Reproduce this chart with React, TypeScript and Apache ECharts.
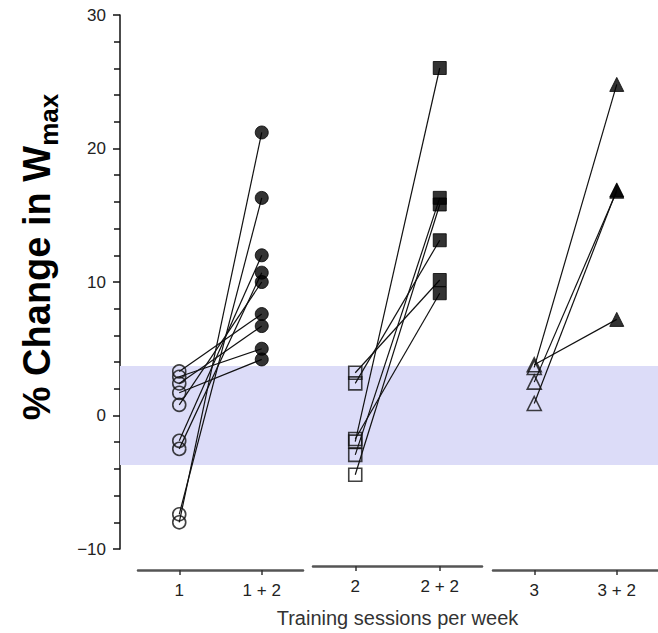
import React, { useEffect, useRef } from "react";
import * as echarts from "echarts";

// Tick labels / categories
const groupCategories = [
  ["1", "1 + 2"],
  ["2", "2 + 2"],
  ["3", "3 + 2"],
];
const yTicks = [-10, 0, 10, 20, 30];

// % change in Wmax, paired per subject (before -> after)
const preOnce = [-8.0, -7.4, -1.9, -2.5, 0.8, 3.3, 2.4, 2.9, 1.7];
const postOnce = [21.2, 16.3, 12.0, 10.7, 10.0, 7.6, 6.7, 5.0, 4.2];
const preTwice = [-2.2, -3.2, -4.7, 3.0, 2.2, -2.0];
const postTwice = [26.0, 16.2, 15.7, 10.0, 13.0, 9.0];
const preThrice = [3.8, 3.6, 2.5, 0.9];
const postThrice = [7.2, 24.8, 16.8, 16.9];

// Reference band (typical variation)
const bandLimits = [-3.7, 3.7];

const groups = [
  { pre: preOnce, post: postOnce, symbol: "circle", size: 13 },
  { pre: preTwice, post: postTwice, symbol: "rect", size: 13 },
  { pre: preThrice, post: postThrice, symbol: "triangle", size: 14 },
];

const FONT = "Liberation Sans, Arial, Helvetica, sans-serif";

export default function App() {
  const ref = useRef<HTMLDivElement>(null);
  useEffect(() => {
    if (!ref.current) return;
    const chart = echarts.init(ref.current, undefined, { renderer: "svg" });
    const TOP = 15;
    const BOTTOM = 84;
    const grids: any[] = [
      { left: 120, right: 0, top: TOP, bottom: BOTTOM },
      { left: 138, width: 165, top: TOP, bottom: BOTTOM },
      { left: 313, width: 169, top: TOP, bottom: BOTTOM },
      { left: 493, width: 165, top: TOP, bottom: BOTTOM },
    ];
    const xAxes: any[] = [
      { gridIndex: 0, type: "value", min: 0, max: 1, show: false },
    ];
    const yAxes: any[] = [
      {
        gridIndex: 0,
        type: "value",
        min: yTicks[0],
        max: yTicks[yTicks.length - 1],
        interval: 10,
        axisLine: { show: true, onZero: false, lineStyle: { color: "#111", width: 1.5 } },
        axisTick: { show: true, length: 7, lineStyle: { color: "#111", width: 1.5 } },
        minorTick: { show: true, splitNumber: 5, length: 6, lineStyle: { color: "#111", width: 1.5 } },
        splitLine: { show: false },
        axisLabel: {
          margin: 14,
          fontSize: 17,
          color: "#222",
          fontFamily: FONT,
          formatter: (v: number) => String(v).replace("-", "\u2212"),
        },
      },
    ];
    const series: any[] = [
      {
        type: "line",
        xAxisIndex: 0,
        yAxisIndex: 0,
        data: [],
        silent: true,
        markArea: {
          silent: true,
          itemStyle: { color: "#dcdcf8" },
          data: [[{ yAxis: bandLimits[1] }, { yAxis: bandLimits[0] }]],
        },
      },
    ];
    groups.forEach((g, gi) => {
      const idx = gi + 1;
      xAxes.push({
        gridIndex: idx,
        type: "category",
        data: groupCategories[gi],
        boundaryGap: true,
        offset: 21,
        axisLine: { show: true, onZero: false, lineStyle: { color: "#555", width: 2.5 } },
        axisTick: { show: true, alignWithLabel: true, length: 5, lineStyle: { color: "#333", width: 1.5 } },
        axisLabel: {
          margin: 12,
          fontSize: 17,
          color: "#222",
          fontFamily: FONT,
        },
        ...(gi === 1
          ? {
              name: "Training sessions per week",
              nameLocation: "middle",
              nameGap: 42,
              nameTextStyle: {
                fontSize: 20,
                color: "#333",
                fontFamily: FONT,
              },
            }
          : {}),
      });
      yAxes.push({
        gridIndex: idx,
        type: "value",
        min: yTicks[0],
        max: yTicks[yTicks.length - 1],
        show: false,
      });
      g.pre.forEach((v, i) => {
        series.push({
          type: "line",
          xAxisIndex: idx,
          yAxisIndex: idx,
          symbol: "none",
          silent: true,
          z: 2,
          lineStyle: { color: "#111", width: 1.2 },
          data: [
            [0, v],
            [1, g.post[i]],
          ],
        });
      });
      series.push({
        type: "scatter",
        xAxisIndex: idx,
        yAxisIndex: idx,
        symbol: g.symbol,
        symbolSize: g.size,
        z: 3,
        itemStyle: { color: "rgba(255,255,255,0)", borderColor: "#111", borderWidth: 1.6 },
        data: g.pre.map((v) => [0, v]),
      });
      series.push({
        type: "scatter",
        xAxisIndex: idx,
        yAxisIndex: idx,
        symbol: g.symbol,
        symbolSize: g.size,
        z: 3,
        itemStyle: { color: "#000", borderColor: "#000", borderWidth: 1 },
        data: g.post.map((v) => [1, v]),
      });
    });

    chart.setOption({
      animation: false,
      backgroundColor: "#fff",
      grid: grids,
      xAxis: xAxes,
      yAxis: yAxes,
      series,
      graphic: [
        {
          type: "text",
          x: 40,
          y: 257,
          rotation: Math.PI / 2,
          style: {
            text: "{a|% Change in W}{s|max}",
            align: "center",
            verticalAlign: "middle",
            fill: "#000",
            rich: {
              a: {
                fontSize: 38,
                fontWeight: "bold",
                fontFamily: FONT,
                fill: "#000",
                lineHeight: 44,
                verticalAlign: "top",
              },
              s: {
                fontSize: 26,
                fontWeight: "bold",
                fontFamily: FONT,
                fill: "#000",
                lineHeight: 30,
                verticalAlign: "bottom",
                padding: [18, 0, 0, 0],
              },
            },
          },
        },
      ],
    });
    return () => chart.dispose();
  }, []);
  return (
    <div
      ref={ref}
      style={{ position: "fixed", left: 0, top: 0, width: 658, height: 633 }}
    />
  );
}
